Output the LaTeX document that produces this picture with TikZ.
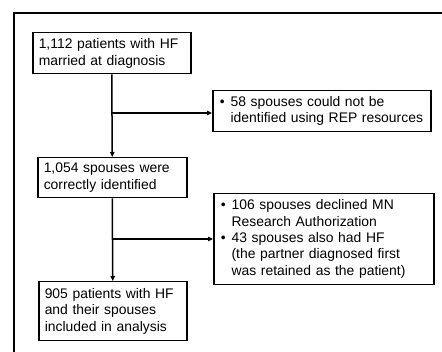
\documentclass[tikz,border=0pt]{standalone}
\usepackage{fontspec}
\setmainfont{Liberation Sans}
\usetikzlibrary{arrows.meta,calc}
\begin{document}
\begin{tikzpicture}[x=1pt,y=-1pt,
  mainbox/.style={draw=black,line width=1.5pt,anchor=north west,align=left,
    inner xsep=6pt,inner ysep=0pt,font=\fontsize{13.9}{16.4}\selectfont},
  sidebox/.style={draw=black,line width=1.5pt,anchor=north west,align=left,
    inner xsep=7pt,inner ysep=0pt,font=\fontsize{13.9}{16.4}\selectfont},
  arr/.style={line width=1.5pt,-{Triangle[length=5pt,width=4.5pt]}}]
\useasboundingbox (0,0) rectangle (442,352);
\fill[white] (0,0) rectangle (442,352);
\draw[line width=1.7pt] (14,356) -- (14,13) -- (446,13);

\node[mainbox,text width=146pt,minimum height=41pt] (b1) at (32,32)
  {1,112 patients with HF\\married at diagnosis};
\node[mainbox,text width=137pt,minimum height=40pt] (b3) at (37,157)
  {1,054 spouses were\\correctly identified};
\node[mainbox,text width=136pt,minimum height=59pt] (b5) at (38,281)
  {905 patients with HF\\and their spouses\\included in analysis};

\node[sidebox,text width=204pt,minimum height=41pt] (b2) at (212,90)
  {\begin{tabular}{@{}l@{\hspace{6pt}}l@{}}
  \textbullet & 58 spouses could not be\\
              & identified using REP resources
  \end{tabular}};
\node[sidebox,text width=206pt,minimum height=91pt] (b4) at (213,193)
  {\begin{tabular}{@{}l@{\hspace{6pt}}l@{}}
  \textbullet & 106 spouses declined MN\\
              & Research Authorization\\
  \textbullet & 43 spouses also had HF\\
              & (the partner diagnosed first\\
              & was retained as the patient)
  \end{tabular}};

\coordinate (j1) at (b1.south |- 0,113);
\coordinate (j2) at (b3.south |- 0,239);
\draw[arr] (b1.south) -- (b3.north);
\draw[arr] (j1) -- (j1 -| b2.west);
\draw[arr] (b3.south) -- (b5.north);
\draw[arr] (j2) -- (j2 -| b4.west);
\end{tikzpicture}
\end{document}
